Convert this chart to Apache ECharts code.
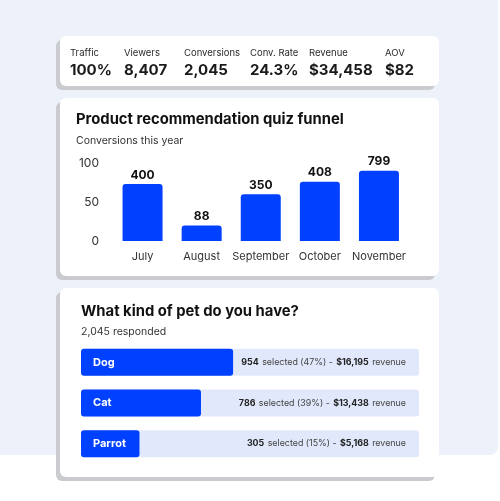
<!DOCTYPE html>
<html>
<head>
<meta charset="utf-8">
<script src="https://cdn.jsdelivr.net/npm/echarts@6/dist/echarts.min.js"></script>
<style>
html,body{margin:0;padding:0;background:#fff;}
#c{width:500px;height:501px;}
</style>
</head>
<body>
<div id="c"></div>
<script>
const statLabels = ['Traffic', 'Viewers', 'Conversions', 'Conv. Rate', 'Revenue', 'AOV'];
const statValues = ['100%', '8,407', '2,045', '24.3%', '$34,458', '$82'];
const months = ['July', 'August', 'September', 'October', 'November'];
const barHeights = [73, 20, 60, 76, 90];
const barLabels = [400, 88, 350, 408, 799];
const pets = ['Dog', 'Cat', 'Parrot'];
const petFill = [45, 35.5, 17.3];
const petSelected = [954, 786, 305];
const petPct = [47, 39, 15];
const petRevenue = ['$16,195', '$13,438', '$5,168'];

const BLUE = '#0040FF';
const FONT = 'Inter';
const statX = [70, 124, 184, 250, 309, 385];

function card(x, y, w, h) {
  return [
    { type: 'rect', z: 1, shape: { x: x - 4, y: y + 4, width: w, height: h, r: 6 }, style: { fill: '#c9cbcf' } },
    { type: 'rect', z: 2, shape: { x: x, y: y, width: w, height: h, r: 6 }, style: { fill: '#ffffff' } }
  ];
}

const graphics = [
  { type: 'rect', z: 0, shape: { x: -10, y: -10, width: 508, height: 465, r: 8 }, style: { fill: '#edf1f9' } }
].concat(card(60, 36, 379, 50), card(60, 98, 379, 178), card(60, 288, 379, 189));

statLabels.forEach((l, i) => {
  graphics.push({ type: 'text', z: 5, x: statX[i], y: 53, style: { text: l, font: '400 9.5px ' + FONT, fill: '#2b2b2b', textVerticalAlign: 'middle' } });
  graphics.push({ type: 'text', z: 5, x: statX[i], y: 70.5, style: { text: statValues[i], font: '700 15px ' + FONT, fill: '#1a1a1a', textVerticalAlign: 'middle' } });
});
graphics.push({ type: 'text', z: 5, x: 76, y: 120, style: { text: 'Product recommendation quiz funnel', font: '700 14.8px ' + FONT, fill: '#111', textVerticalAlign: 'middle' } });
graphics.push({ type: 'text', z: 5, x: 76, y: 141, style: { text: 'Conversions this year', font: '400 10.5px ' + FONT, fill: '#333', textVerticalAlign: 'middle' } });
graphics.push({ type: 'text', z: 5, x: 81, y: 312, style: { text: 'What kind of pet do you have?', font: '700 14.8px ' + FONT, fill: '#111', textVerticalAlign: 'middle' } });
graphics.push({ type: 'text', z: 5, x: 81, y: 332, style: { text: '2,045 responded', font: '400 10.5px ' + FONT, fill: '#333', textVerticalAlign: 'middle' } });

const chart = echarts.init(document.getElementById('c'), null, { renderer: 'canvas' });
chart.setOption({
  animation: false,
  textStyle: { fontFamily: FONT },
  graphic: graphics,
  grid: [
    { left: 113, top: 163, width: 295.5, height: 78 },
    { left: 81, top: 342, width: 338, height: 122 }
  ],
  xAxis: [
    { type: 'category', gridIndex: 0, data: months, z: 10,
      axisLine: { show: false }, axisTick: { show: false },
      axisLabel: { color: '#333', fontSize: 11, margin: 10, interval: 0, fontFamily: FONT } },
    { type: 'value', gridIndex: 1, min: 0, max: 100, show: false }
  ],
  yAxis: [
    { type: 'value', gridIndex: 0, min: 0, max: 100, interval: 50, z: 10,
      splitLine: { show: false }, axisLine: { show: false }, axisTick: { show: false },
      axisLabel: { color: '#333', fontSize: 12, margin: 14, fontFamily: FONT } },
    { type: 'category', gridIndex: 1, data: pets, inverse: true, show: false }
  ],
  series: [
    { type: 'bar', xAxisIndex: 0, yAxisIndex: 0, data: barHeights, barWidth: 40, z: 5,
      itemStyle: { color: BLUE, borderRadius: [3, 3, 0, 0] },
      label: { show: true, position: 'top', distance: 3, color: '#111', fontSize: 12, fontWeight: 'bold', fontFamily: FONT,
        formatter: p => String(barLabels[p.dataIndex]) } },
    { type: 'bar', xAxisIndex: 1, yAxisIndex: 1, data: petFill, barWidth: 27, z: 5,
      showBackground: true, backgroundStyle: { color: '#e2e8fb', borderRadius: 3 },
      itemStyle: { color: BLUE, borderRadius: 3 },
      label: { show: true, position: 'insideLeft', distance: 12, color: '#fff', fontSize: 11, fontWeight: 'bold', fontFamily: FONT,
        formatter: p => pets[p.dataIndex] } },
    { type: 'bar', xAxisIndex: 1, yAxisIndex: 1, data: pets.map(() => 100), barWidth: 27, barGap: '-100%', z: 7,
      silent: true, itemStyle: { color: 'rgba(0,0,0,0)' },
      label: { show: true, position: 'insideRight', distance: 13, fontFamily: FONT,
        formatter: p => '{b|' + petSelected[p.dataIndex] + '} {n|selected (' + petPct[p.dataIndex] + '%) -} {b|' + petRevenue[p.dataIndex] + '} {n|revenue}',
        rich: { b: { fontSize: 8.9, fontWeight: 'bold', color: '#222', fontFamily: FONT }, n: { fontSize: 8.9, color: '#444', fontFamily: FONT } } } }
  ]
});
</script>
</body>
</html>
